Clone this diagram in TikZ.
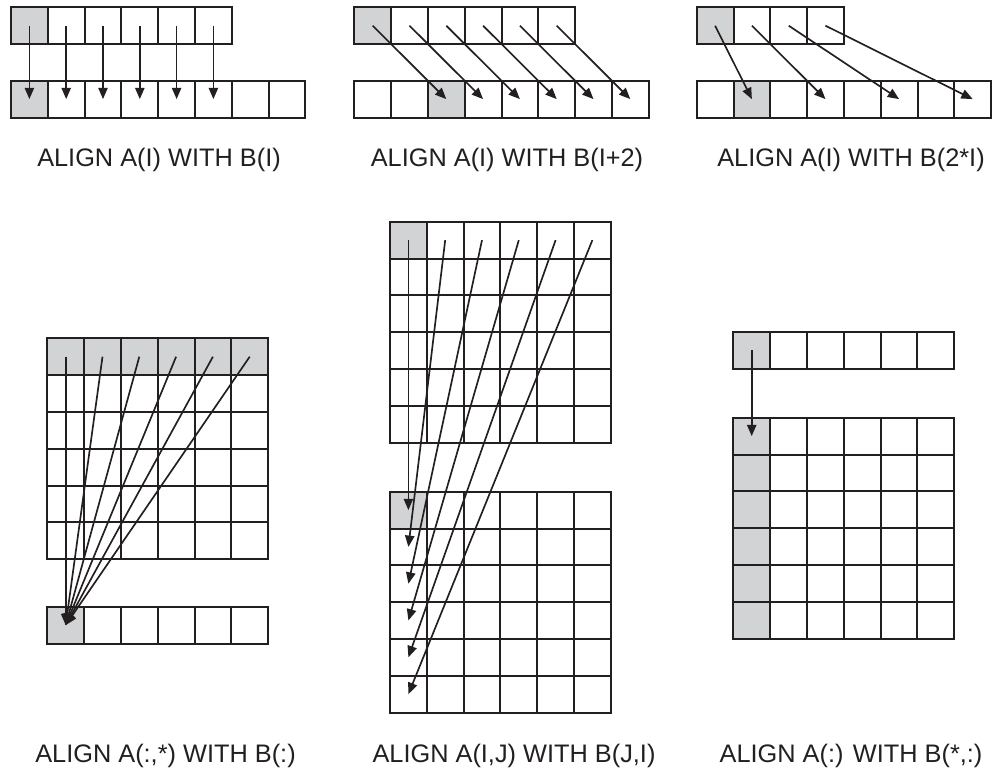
\documentclass[tikz,border=0pt]{standalone}
\usepackage{fontspec}
\setmainfont{Liberation Sans}
\usetikzlibrary{arrows.meta}
\definecolor{cellgray}{HTML}{D1D3D4}
\definecolor{ink}{HTML}{231F20}
\tikzset{
cell/.style={draw=ink,line width=1.5pt,fill=white,minimum size=27.6pt,inner sep=0pt,outer sep=0pt},
shaded/.style={cell,fill=cellgray},
arr/.style={draw=ink,line width=1.25pt,-{Triangle[length=8.5pt,width=7pt]}},
lbl/.style={anchor=base,inner sep=0pt,text=ink,font=\fontsize{19}{23}\selectfont}
}
\def\cw{36.8}
\begin{document}
\begin{tikzpicture}[x=0.75pt,y=-0.75pt]
\useasboundingbox (0,0) rectangle (992,769);
\foreach \i in {1,...,6} {\ifnum\i=1 \def\st{shaded}\else\def\st{cell}\fi
  \node[\st] (sameA\i) at ({11+(\i-0.5)*\cw},25.7) {};}
\foreach \i in {1,...,8} {\ifnum\i=1 \def\st{shaded}\else\def\st{cell}\fi
  \node[\st] (sameB\i) at ({11+(\i-0.5)*\cw},99.1) {};}
\foreach \i in {1,...,6} \draw[arr] (sameA\i.center) -- (sameB\i.center);
\node[lbl] (sameL) at (159,166.7) {ALIGN A(I) WITH B(I)};

\foreach \i in {1,...,6} {\ifnum\i=1 \def\st{shaded}\else\def\st{cell}\fi
  \node[\st] (shiftA\i) at ({354.3+(\i-0.5)*\cw},25.7) {};}
\foreach \i in {1,...,8} {\ifnum\i=3 \def\st{shaded}\else\def\st{cell}\fi
  \node[\st] (shiftB\i) at ({354.3+(\i-0.5)*\cw},99.1) {};}
\foreach \i [evaluate=\i as \j using int(\i+2)] in {1,...,6} \draw[arr] (shiftA\i.center) -- (shiftB\j.center);
\node[lbl] (shiftL) at (507,166.7) {ALIGN A(I) WITH B(I+2)};

\foreach \i in {1,...,4} {\ifnum\i=1 \def\st{shaded}\else\def\st{cell}\fi
  \node[\st] (twiceA\i) at ({696.7+(\i-0.5)*\cw},25.7) {};}
\foreach \i in {1,...,8} {\ifnum\i=2 \def\st{shaded}\else\def\st{cell}\fi
  \node[\st] (twiceB\i) at ({696.7+(\i-0.5)*\cw},99.1) {};}
\foreach \i [evaluate=\i as \j using int(2*\i)] in {1,...,4} \draw[arr] (twiceA\i.center) -- (twiceB\j.center);
\node[lbl] (twiceL) at (851,166.7) {ALIGN A(I) WITH B(2*I)};

\foreach \r in {1,...,6} \foreach \c in {1,...,6} {\ifnum\r=1 \def\st{shaded}\else\def\st{cell}\fi
  \node[\st] (spA\r\c) at ({47.3+(\c-0.5)*\cw},{338.3+(\r-0.5)*\cw}) {};}
\foreach \c in {1,...,6} {\ifnum\c=1 \def\st{shaded}\else\def\st{cell}\fi
  \node[\st] (spB\c) at ({47.3+(\c-0.5)*\cw},625.1) {};}
\foreach \c in {1,...,6} \draw[arr] (spA1\c.center) -- (spB1.center);
\node[lbl] (spL) at (165.5,762.3) {ALIGN A(:,*) WITH B(:)};

\foreach \r in {1,...,6} \foreach \c in {1,...,6} {\ifnum\r\c=11 \def\st{shaded}\else\def\st{cell}\fi
  \node[\st] (trA\r\c) at ({390+(\c-0.5)*\cw},{221.7+(\r-0.5)*\cw}) {};
  \node[\st] (trB\r\c) at ({390+(\c-0.5)*\cw},{491.7+(\r-0.5)*\cw}) {};}
\foreach \j in {1,...,6} \draw[arr] (trA1\j.center) -- (trB\j1.center);
\node[lbl] (trL) at (514,762.3) {ALIGN A(I,J) WITH B(J,I)};

\foreach \c in {1,...,6} {\ifnum\c=1 \def\st{shaded}\else\def\st{cell}\fi
  \node[\st] (bcA\c) at ({733.3+(\c-0.5)*\cw},350.1) {};
  \foreach \r in {1,...,6} \node[\st] (bcB\r\c) at ({733.3+(\c-0.5)*\cw},{417.7+(\r-0.5)*\cw}) {};}
\draw[arr] (bcA1.center) -- (bcB11.center);
\node[lbl] (bcL) at (851,762.3) {ALIGN A(:) WITH B(*,:)};
\end{tikzpicture}
\end{document}
